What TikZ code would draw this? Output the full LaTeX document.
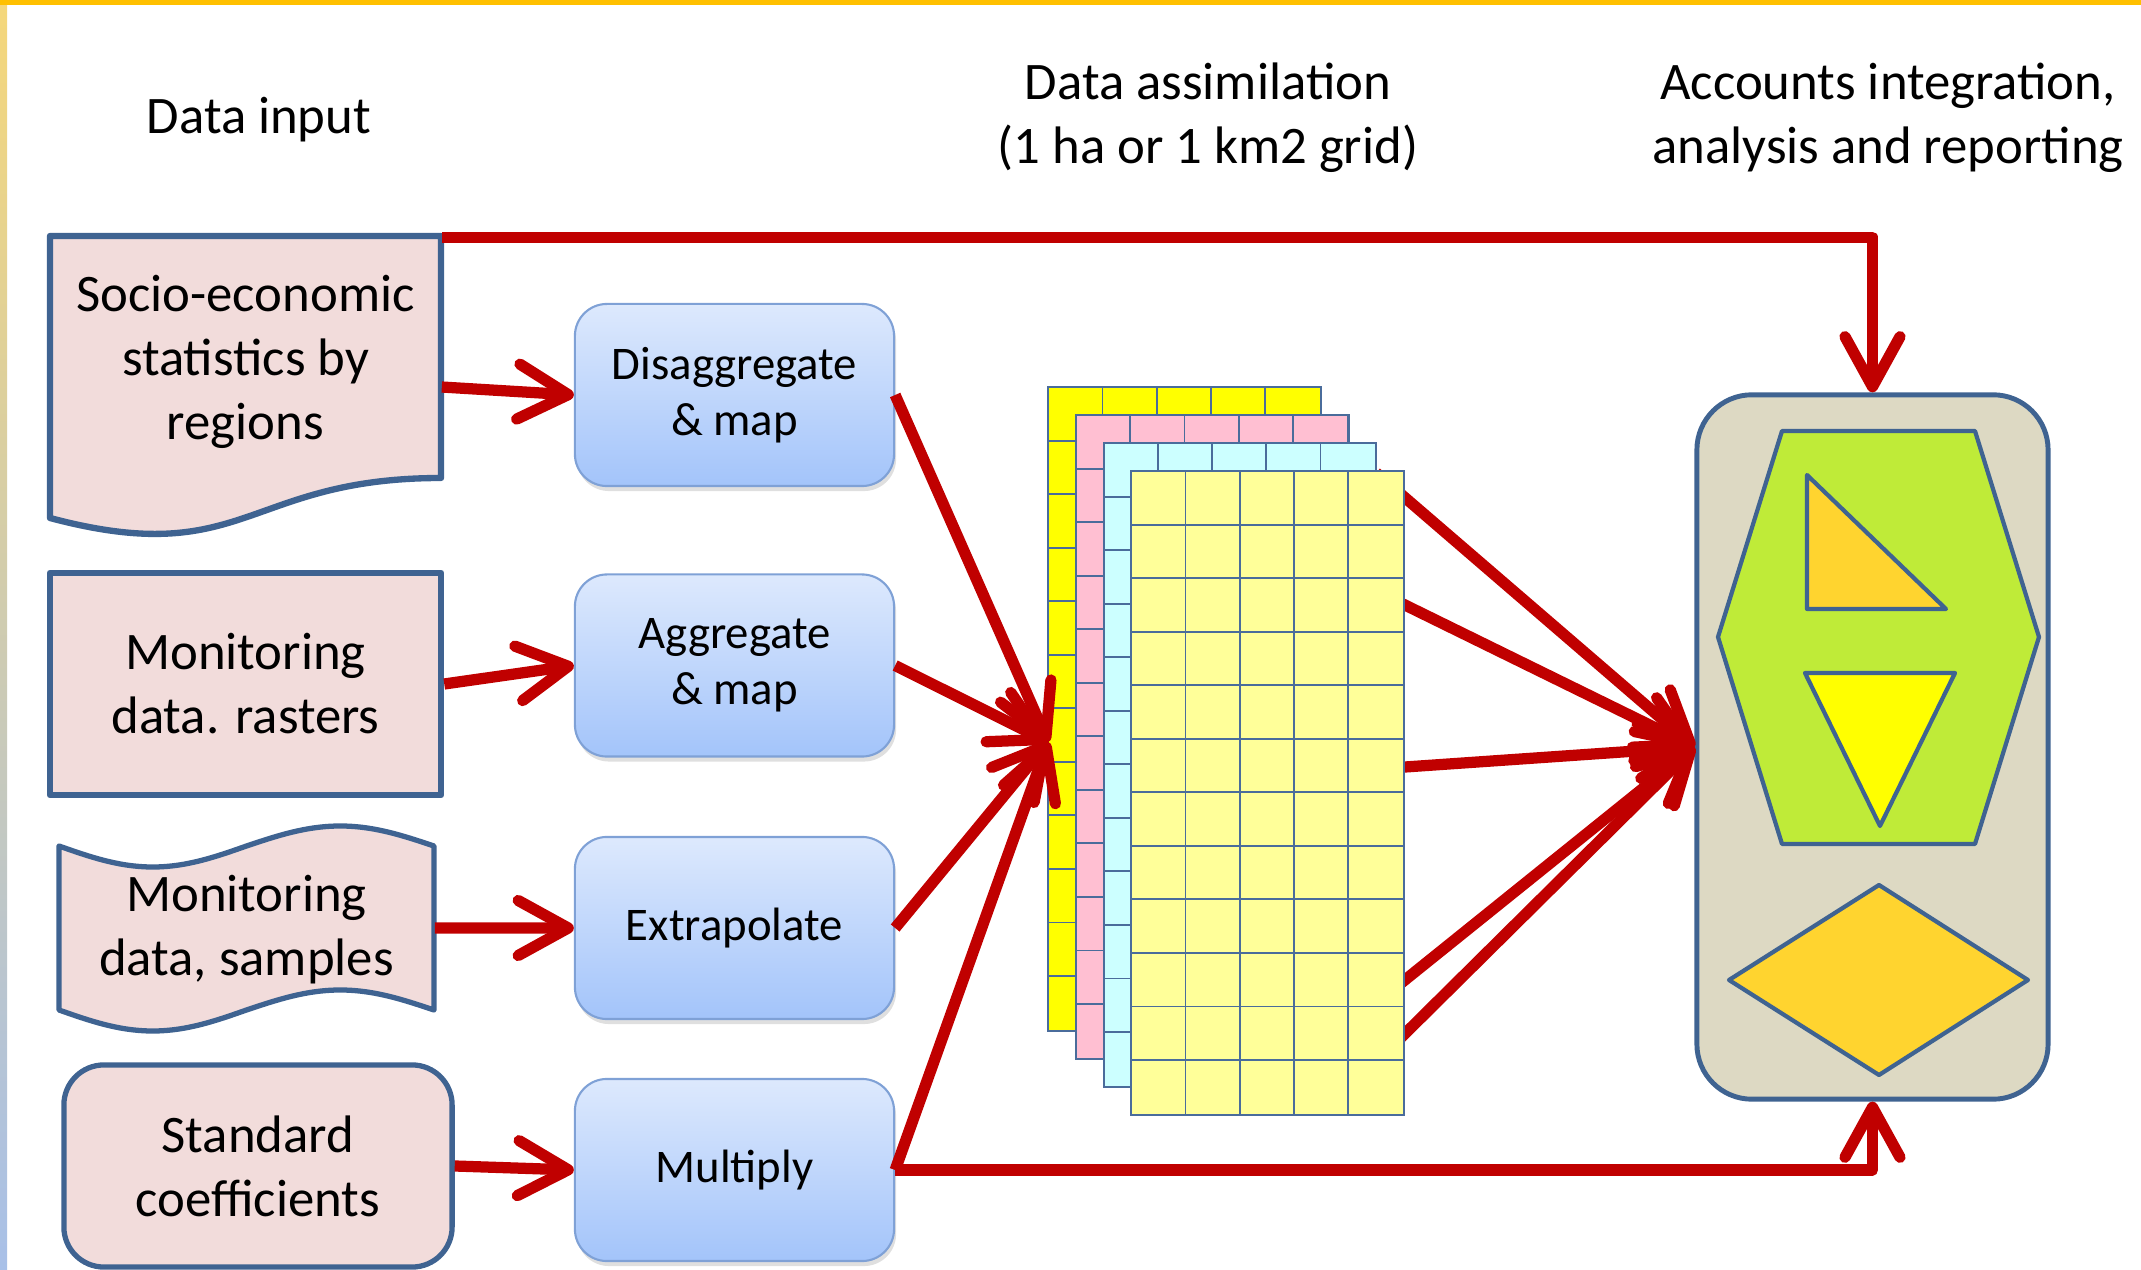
\documentclass[tikz,border=0pt]{standalone}
\usepackage{fontspec}
\setmainfont{Carlito}
\usetikzlibrary{arrows.meta,shadows,positioning}
\definecolor{rd}{HTML}{C00000}
\definecolor{edgeblue}{HTML}{3F6391}
\definecolor{boxpink}{HTML}{F2DCDB}
\definecolor{topblue}{HTML}{DDE9FD}
\definecolor{botblue}{HTML}{A3C4FA}
\definecolor{rimblue}{HTML}{7FA1D6}
\definecolor{panelfill}{HTML}{DDD9C3}
\definecolor{lime}{HTML}{BFEB38}
\definecolor{gold}{HTML}{FFD42F}
\definecolor{gridyellow}{HTML}{FFFF00}
\definecolor{gridpink}{HTML}{FFBFD2}
\definecolor{gridcyan}{HTML}{CCFFFF}
\definecolor{gridpale}{HTML}{FFFF99}
\definecolor{gridline}{HTML}{4A6C9B}
\definecolor{striptop}{HTML}{F5D77A}
\definecolor{stripmid}{HTML}{C9C9B6}
\definecolor{stripbot}{HTML}{A8C0E8}
\definecolor{topbar}{HTML}{FFC000}
\begin{document}
\begin{tikzpicture}[x=0.01cm, y=-0.01cm,
  inbox/.style={align=center, inner sep=0pt, font=\fontsize{15}{18.2}\selectfont},
  docline/.style={draw=edgeblue, fill=boxpink, line width=1.5pt, line join=round},
  stepbox/.style={draw=rimblue, line width=0.6pt, rounded corners=0.32cm, top color=topblue, bottom color=botblue,
    minimum width=3.19cm, minimum height=1.82cm, align=center, font=\fontsize{13.3}{16}\selectfont,
    drop shadow={shadow xshift=0.02cm, shadow yshift=-0.05cm, opacity=0.25}},
  layer/.style={minimum width=2.71cm, minimum height=6.42cm, inner sep=0pt},
  shapeline/.style={draw=edgeblue, line width=1.2pt, line join=round},
  redarrow/.style={-{Straight Barb[length=0.5cm, width=0.55cm, round]}, line width=3.2pt, draw=rd, line join=round}]
\useasboundingbox (0,0) rectangle (2141,1270);
\fill[top color=striptop, middle color=stripmid, bottom color=stripbot] (0,0) rectangle (7,1270);
\fill[topbar] (0,0) rectangle (2141,5);

\node[inbox] (datain) at (259,120) {Data input};
\node[inbox] (assim) at (1208,118) {Data assimilation\\(1 ha or 1 km2 grid)};
\node[inbox] (accounts) at (1888,118) {Accounts integration,\\analysis and reporting};

\draw[docline, line width=1.8pt] (50,236) -- (441,236) -- (441,478) .. controls (245.5,478) and (245.5,570) .. (50,518) -- cycle;
\node[inbox, minimum width=3.91cm, minimum height=2.48cm] (socio) at (245.5,362) {Socio-economic\\statistics by\\regions};
\node[inbox, docline, line width=1.8pt, minimum width=3.91cm, minimum height=2.22cm] (rast) at (245.5,684) {Monitoring\\data. rasters};
\draw[docline] (59,846) sin (152.75,867) cos (246.5,846) sin (340.25,826) cos (434,846) -- (434,1010)
  sin (340.25,990) cos (246.5,1010) sin (152.75,1031) cos (59,1010) -- cycle;
\node[inbox, minimum width=3.75cm, minimum height=1.64cm] (tape) at (246.5,930) {Monitoring\\data, samples};
\node[inbox, docline, rounded corners=0.4cm, minimum width=3.88cm, minimum height=2.02cm] (coef) at (258,1166) {Standard\\coefficients};

\node[stepbox] (dis) at (734.5,395) {Disaggregate\\\& map};
\node[stepbox] (agg) at (734.5,665.5) {Aggregate\\\& map};
\node[stepbox] (ext) at (734.5,928) {Extrapolate};
\node[stepbox] (mul) at (734.5,1170) {Multiply};

\node[draw=edgeblue, fill=panelfill, line width=1.4pt, rounded corners=0.55cm, minimum width=3.51cm, minimum height=7.04cm] (panel) at (1872.5,747) {};
\draw[shapeline, fill=lime] (1782,431) -- (1975,431) -- (2039,637) -- (1975,844) -- (1782,844) -- (1718,637) -- cycle;
\draw[shapeline, fill=gold] (1807,475) -- (1946,609) -- (1807,609) -- cycle;
\draw[shapeline, fill=gridyellow] (1805,673) -- (1955,673) -- (1880,826) -- cycle;
\draw[shapeline, fill=gold] (1729,980) -- (1879,885) -- (2028,980) -- (1879,1075) -- cycle;

\foreach \c [count=\k from 0] in {gridyellow,gridpink,gridcyan,gridpale} {
  \ifnum\k=3
    \foreach \s in {2.92,1.74,-0.04,-2.38,-2.97}
      \draw[redarrow] ([yshift=\s cm]lay2.east) -- (panel.west);
  \fi
  \node[layer, fill=\c] (lay\k) at (1184.5+27.7*\k,709+28*\k) {};
  \foreach \i in {1,...,4}
    \draw[gridline, line width=0.5pt] ([xshift=0.542*\i cm]lay\k.north west) -- ([xshift=0.542*\i cm]lay\k.south west);
  \foreach \j in {1,...,11}
    \draw[gridline, line width=0.5pt] ([yshift=-0.535*\j cm]lay\k.north west) -- ([yshift=-0.535*\j cm]lay\k.north east);
  \draw[gridline, line width=0.6pt] (lay\k.north west) rectangle (lay\k.south east);
}

\draw[redarrow] ([yshift=-0.25cm]socio.east) -- (dis.west);
\draw[redarrow] (rast.east) -- (agg.west);
\draw[redarrow] ([yshift=0.02cm]tape.east) -- (ext.west);
\draw[redarrow] (coef.east) -- (mul.west);
\foreach \b in {dis,agg,ext,mul}
  \draw[redarrow] (\b.east) -- ([yshift=-0.33cm]lay0.west);
\draw[redarrow] (socio.north east) -| (panel.north);
\draw[redarrow] (mul.east) -| (panel.south);
\end{tikzpicture}
\end{document}
